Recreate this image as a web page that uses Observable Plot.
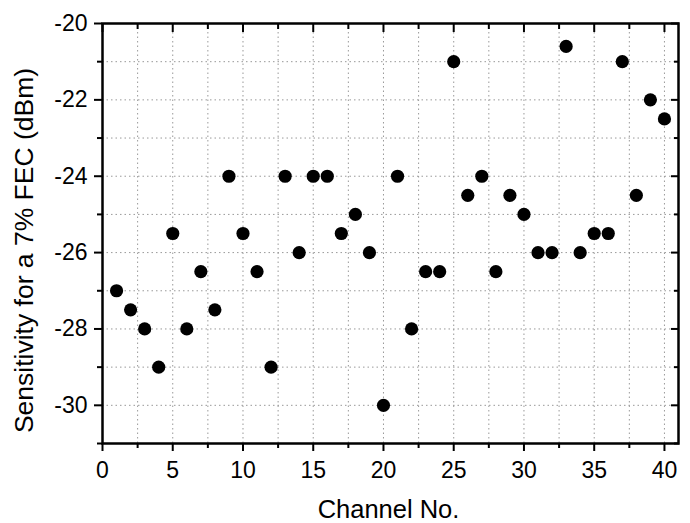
<!DOCTYPE html>
<html>
<head>
<meta charset="utf-8">
<script src="https://cdn.jsdelivr.net/npm/d3@7"></script>
<script src="https://cdn.jsdelivr.net/npm/@observablehq/plot@0.6"></script>
<style>
  html, body { margin: 0; padding: 0; background: #fff; }
</style>
</head>
<body>
<div id="chart"></div>
<script>
const channels = d3.range(1, 41);
const sensitivity = [
  -27, -27.5, -28, -29, -25.5, -28, -26.5, -27.5, -24, -25.5,
  -26.5, -29, -24, -26, -24, -24, -25.5, -25, -26, -30,
  -24, -28, -26.5, -26.5, -21, -24.5, -24, -26.5, -24.5, -25,
  -26, -26, -20.6, -26, -25.5, -25.5, -21, -24.5, -22, -22.5
];
const xMajorTicks = [0, 5, 10, 15, 20, 25, 30, 35, 40];
const xMinorTicks = [2.5, 7.5, 12.5, 17.5, 22.5, 27.5, 32.5, 37.5];
const xGridLines = [2.5, 5, 7.5, 10, 12.5, 15, 17.5, 20, 22.5, 25, 27.5, 30, 32.5, 35, 37.5, 40];
const yMajorTicks = [-30, -28, -26, -24, -22, -20];
const yMinorTicks = [-31, -29, -27, -25, -23, -21];
const yGridLines = [-30, -29, -28, -27, -26, -25, -24, -23, -22, -21];
const xTitle = "Channel No.";
const yTitle = "Sensitivity for a 7% FEC (dBm)";

const data = channels.map((c, i) => ({channel: c, value: sensitivity[i]}));

const tickStyle = {stroke: "#000", strokeWidth: 2, label: null};
const blank = () => "";

const chart = Plot.plot({
  width: 690,
  height: 523,
  marginLeft: 102,
  marginRight: 12,
  marginTop: 23,
  marginBottom: 80,
  style: {fontFamily: "'Liberation Sans', Arial, sans-serif", color: "#000", background: "#fff"},
  x: {domain: [0, 41]},
  y: {domain: [-31, -20]},
  marks: [
    Plot.gridX(xGridLines, {stroke: "#999", strokeOpacity: 1, strokeWidth: 1, strokeDasharray: "1.5,3"}),
    Plot.gridY(yGridLines, {stroke: "#999", strokeOpacity: 1, strokeWidth: 1, strokeDasharray: "1.5,3"}),
    Plot.axisX({anchor: "bottom", ticks: xMajorTicks, tickSize: 8, tickPadding: 10, fontSize: 23, tickFormat: d => String(d), ...tickStyle}),
    Plot.axisX({anchor: "bottom", ticks: xMinorTicks, tickSize: 5, tickFormat: blank, ...tickStyle}),
    Plot.axisX({anchor: "top", ticks: xMajorTicks, tickSize: -8, tickFormat: blank, ...tickStyle}),
    Plot.axisX({anchor: "top", ticks: xMinorTicks, tickSize: -5, tickFormat: blank, ...tickStyle}),
    Plot.axisY({anchor: "left", ticks: yMajorTicks, tickSize: 8, tickPadding: 7, fontSize: 23, tickFormat: d => String(d), ...tickStyle}),
    Plot.axisY({anchor: "left", ticks: yMinorTicks, tickSize: 5, tickFormat: blank, ...tickStyle}),
    Plot.axisY({anchor: "right", ticks: yMajorTicks, tickSize: -8, tickFormat: blank, ...tickStyle}),
    Plot.axisY({anchor: "right", ticks: yMinorTicks, tickSize: -5, tickFormat: blank, ...tickStyle}),
    Plot.frame({stroke: "#000", strokeWidth: 2.5}),
    Plot.dot(data, {x: "channel", y: "value", r: 6.6, fill: "#000", stroke: "none"}),
    Plot.text([xTitle], {text: d => d, frameAnchor: "bottom", dx: -2, dy: 66, textAnchor: "middle", lineAnchor: "middle", fontSize: 25.5, fill: "#000"}),
    Plot.text([yTitle], {text: d => d, frameAnchor: "left", rotate: -90, dx: -78, dy: 17, textAnchor: "middle", lineAnchor: "middle", fontSize: 26.5, fill: "#000"})
  ]
});
document.getElementById("chart").appendChild(chart);
</script>
</body>
</html>
